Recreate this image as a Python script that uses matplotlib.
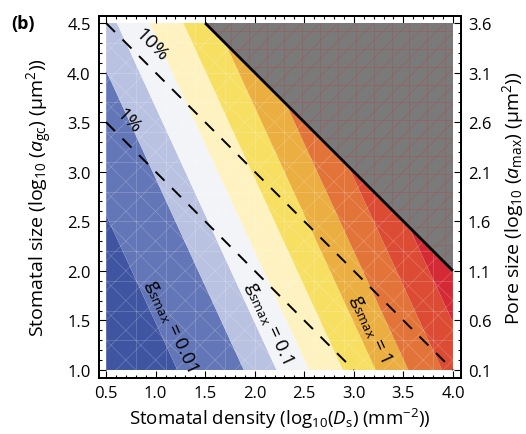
import numpy as np
import matplotlib
matplotlib.use('Agg')
import matplotlib.pyplot as plt
from matplotlib.collections import LineCollection
from matplotlib.patches import Polygon
from matplotlib.ticker import MultipleLocator

# Axis ranges, log10 units
DENSITY_RANGE = [0.5, 4.0]       # log10(Ds), mm^-2
SIZE_RANGE = [1.0, 4.5]          # log10(agc), um^2
PORE_OFFSET = -0.9               # log10(amax) = log10(agc) - 0.9

# log10(gsmax) ~ log10(Ds) + SIZE_EXP * log10(agc) + GS_OFFSET
SIZE_EXP = 0.46
GS_OFFSET = -3.68

# Filled bands of log10(gsmax)
GS_LEVELS = [-2.0, -1.33, -1.0, -0.67, -0.33, 0.0, 0.33, 0.67, 1.0]
BAND_COLORS = ['#3f55a1', '#6376b7', '#b9c2e1', '#f3f4f8', '#fdf2c0',
               '#f7df62', '#ebae40', '#e2743a', '#dc4b33', '#d42a35']
GS_LABELS = [0.01, 0.1, 1]
GS_LABEL_Y = [1.46, 1.49, 1.43]

# Fraction of epidermis covered by stomata: Ds * agc * 1e-6
FRACTIONS = [0.01, 0.1]
FRACTION_LABELS = ['1%', '10%']
FRACTION_LABEL_X = [0.71, 0.94]
FULL_COVER = 6.0                 # log10(1e6 um^2 per mm^2)

X_TICKS = np.arange(0.5, 4.01, 0.5)
Y_TICKS = np.arange(1.0, 4.51, 0.5)
PORE_TICKS = np.arange(0.1, 3.61, 0.5)

FONT = 'Open Sans'
plt.rcParams['font.family'] = [FONT, 'DejaVu Sans']
plt.rcParams['mathtext.fontset'] = 'custom'
plt.rcParams['mathtext.rm'] = FONT
plt.rcParams['mathtext.it'] = FONT + ':italic'
plt.rcParams['mathtext.bf'] = FONT + ':bold'


def mesh_segments(x0, x1, y0, y1, step, diag_up=True, diag_down=True):
    segs = []
    span = max(x1 - x0, y1 - y0)
    for v in np.arange(x0, x1 + 1e-9, step):
        segs.append([(v, y0), (v, y1)])
    for v in np.arange(y0, y1 + 1e-9, step):
        segs.append([(x0, v), (x1, v)])
    for c in np.arange(-span, 2 * span, step):
        if diag_up:
            segs.append([(x0 + c, y0), (x0 + c + 2 * span, y0 + 2 * span)])
        if diag_down:
            segs.append([(x0 + c, y1), (x0 + c + 2 * span, y1 - 2 * span)])
    return segs


fig = plt.figure(figsize=(5.26, 4.35), dpi=100)
ax = fig.add_axes([0.1882, 0.1287, 0.6882, 0.8322])

x0, x1 = DENSITY_RANGE
y0, y1 = SIZE_RANGE
ax.set_xlim(x0 - 0.071, x1 + 0.081)
ax.set_ylim(y0 - 0.081, y1 + 0.071)

# gsmax field
xs = np.linspace(x0, x1, 500)
ys = np.linspace(y0, y1, 500)
X, Y = np.meshgrid(xs, ys)
Z = X + SIZE_EXP * Y + GS_OFFSET
ax.contourf(X, Y, Z, levels=[-20] + GS_LEVELS + [20], colors=BAND_COLORS,
            antialiased=True)

# region where stomata would cover more than the whole epidermis
gray = Polygon([(FULL_COVER - y1, y1), (x1, y1), (x1, FULL_COVER - x1)],
               closed=True, facecolor='#7a7a7a', edgecolor='none', zorder=2)
ax.add_patch(gray)
feasible = Polygon([(x0, y0), (x1, y0), (x1, FULL_COVER - x1),
                    (FULL_COVER - y1, y1), (x0, y1)],
                   closed=True, facecolor='none', edgecolor='none')
ax.add_patch(feasible)

# faint polygon mesh over the colour field
lc = LineCollection(mesh_segments(x0, x1, y0, y1, 0.3), colors='white',
                    linewidths=0.6, alpha=0.2, zorder=1.5)
ax.add_collection(lc)
lc.set_clip_path(feasible)
lc2 = LineCollection(mesh_segments(x0, x1, y0, y1, 0.18, diag_down=False),
                     colors='#b04848', linewidths=0.6, alpha=0.4, zorder=2.5)
ax.add_collection(lc2)
lc2.set_clip_path(gray)

# epidermal cover lines
for frac in FRACTIONS:
    c = FULL_COVER + np.log10(frac)
    lx = np.array([max(x0, c - y1), min(x1, c - y0)])
    ax.plot(lx, c - lx, color='black', lw=1.4, ls=(0, (6.5, 5.5)), zorder=3)
lx = np.array([FULL_COVER - y1, x1])
ax.plot(lx, FULL_COVER - lx, color='black', lw=2.0, zorder=3,
        solid_capstyle='butt')

for frac, text, tx in zip(FRACTIONS, FRACTION_LABELS, FRACTION_LABEL_X):
    c = FULL_COVER + np.log10(frac)
    ax.text(tx + 0.02, c - tx + 0.23, text, rotation=-45, fontsize=14,
            ha='center', va='center', rotation_mode='anchor', zorder=4)

angle = -np.degrees(np.arctan(1.0 / SIZE_EXP))
for g, ty in zip(GS_LABELS, GS_LABEL_Y):
    tx = np.log10(g) - GS_OFFSET - SIZE_EXP * ty + 0.15
    ax.text(tx, ty, r'g$_{\mathregular{smax}}$ = ' + f'{g:g}', rotation=angle,
            fontsize=13.5, ha='center', va='center', rotation_mode='anchor',
            zorder=4)

# frame and ticks
for side in ax.spines.values():
    side.set_linewidth(1.3)
ax.set_xticks(X_TICKS)
ax.set_xticklabels([f'{v:.1f}' for v in X_TICKS])
ax.set_yticks(Y_TICKS)
ax.set_yticklabels([f'{v:.1f}' for v in Y_TICKS])
ax.xaxis.set_minor_locator(MultipleLocator(0.1))
ax.yaxis.set_minor_locator(MultipleLocator(0.1))
ax.tick_params(which='both', direction='in', top=True, right=False,
               labelsize=12, width=0.8)
ax.tick_params(which='major', length=5, pad=5)
ax.tick_params(which='minor', length=2.5)
ax.tick_params(axis='y', pad=6)

ax2 = ax.twinx()
ax2.set_ylim(ax.get_ylim()[0] + PORE_OFFSET, ax.get_ylim()[1] + PORE_OFFSET)
ax2.set_yticks(PORE_TICKS)
ax2.set_yticklabels([f'{v:.1f}' for v in PORE_TICKS])
ax2.yaxis.set_minor_locator(MultipleLocator(0.1))
ax2.tick_params(which='both', direction='in', labelsize=12, width=0.8)
ax2.tick_params(which='major', length=5, pad=5)
ax2.tick_params(which='minor', length=2.5)
for side in ax2.spines.values():
    side.set_linewidth(1.3)

ax.set_xlabel(r'Stomatal density (log$_{10}$($\mathit{D}_{\mathregular{s}}$) (mm$^{-2}$))',
              fontsize=13.5)
ax.set_ylabel(r'Stomatal size (log$_{10}$ ($\mathit{a}_{\mathregular{gc}}$) (μm$^{2}$))',
              fontsize=14)
ax2.set_ylabel(r'Pore size (log$_{10}$ ($\mathit{a}_{\mathregular{max}}$) (μm$^{2}$))',
               fontsize=14, rotation=90)
ax.xaxis.set_label_coords(0.5, -0.077)
ax.yaxis.set_label_coords(-0.122, 0.5)
ax2.yaxis.set_label_coords(1.108, 0.5)

fig.text(0.022, 0.945, '(b)', fontsize=13, fontweight='bold', ha='left',
         va='center')

fig.savefig('out.png', dpi=100)
